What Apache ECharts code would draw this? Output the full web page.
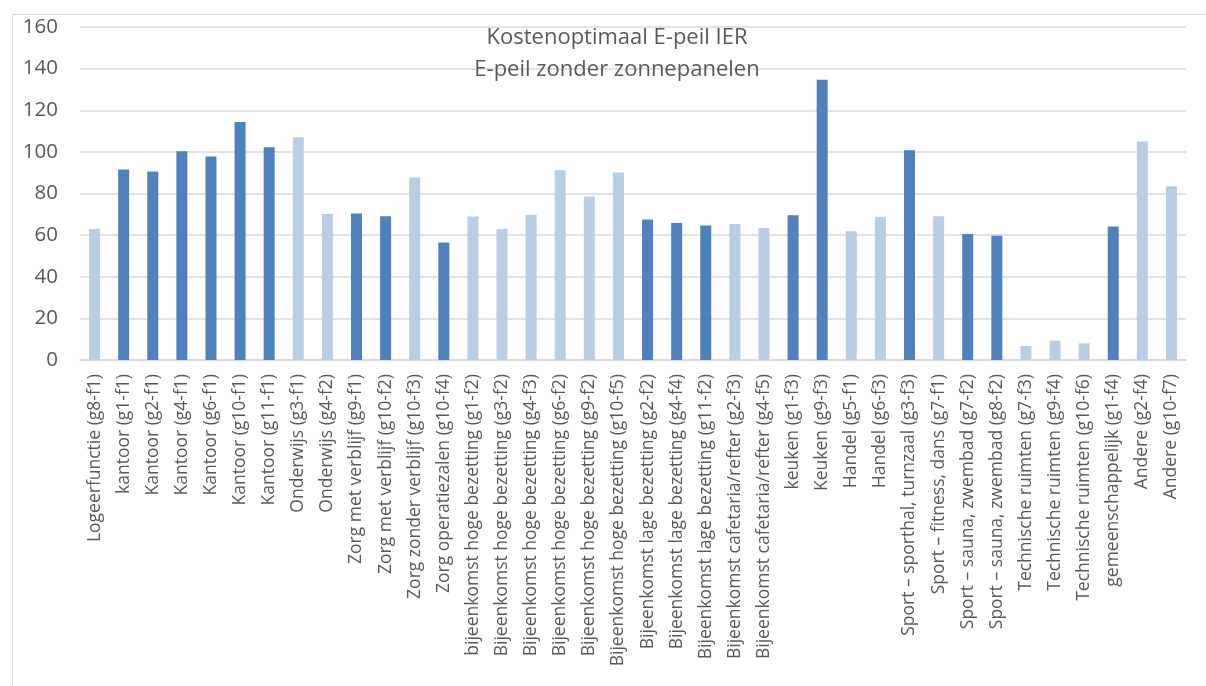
<!DOCTYPE html>
<html>
<head>
<meta charset="utf-8">
<script src="https://cdn.jsdelivr.net/npm/echarts@6/dist/echarts.min.js"></script>
<style>
html,body{margin:0;padding:0;background:#fff;}
#c{width:1206px;height:686px;}
</style>
</head>
<body>
<div id="c"></div>
<script>
const categories = [
  "Logeerfunctie (g8-f1)","kantoor (g1-f1)","Kantoor (g2-f1)","Kantoor (g4-f1)","Kantoor (g6-f1)",
  "Kantoor (g10-f1)","Kantoor (g11-f1)","Onderwijs (g3-f1)","Onderwijs (g4-f2)","Zorg met verblijf (g9-f1)",
  "Zorg met verblijf (g10-f2)","Zorg zonder verblijf (g10-f3)","Zorg operatiezalen (g10-f4)",
  "bijeenkomst hoge bezetting (g1-f2)","Bijeenkomst hoge bezetting (g3-f2)","Bijeenkomst hoge bezetting (g4-f3)",
  "Bijeenkomst hoge bezetting (g6-f2)","Bijeenkomst hoge bezetting (g9-f2)","Bijeenkomst hoge bezetting (g10-f5)",
  "Bijeenkomst lage bezetting (g2-f2)","Bijeenkomst lage bezetting (g4-f4)","Bijeenkomst lage bezetting (g11-f2)",
  "Bijeenkomst cafetaria/refter (g2-f3)","Bijeenkomst cafetaria/refter (g4-f5)","keuken (g1-f3)","Keuken (g9-f3)",
  "Handel (g5-f1)","Handel (g6-f3)","Sport – sporthal, turnzaal (g3-f3)","Sport – fitness, dans (g7-f1)",
  "Sport – sauna, zwembad (g7-f2)","Sport – sauna, zwembad (g8-f2)","Technische ruimten (g7-f3)",
  "Technische ruimten (g9-f4)","Technische ruimten (g10-f6)","gemeenschappelijk (g1-f4)","Andere (g2-f4)","Andere (g10-f7)"
];
// dark blue bars
const darkValues = [null,91.5,90.6,100.3,97.8,114.4,102.2,null,null,70.4,69.1,null,56.5,
  null,null,null,null,null,null,67.5,65.8,64.6,null,null,69.6,134.7,
  null,null,100.8,null,60.5,59.7,null,null,null,64.2,null,null];
// light blue bars
const lightValues = [63.0,null,null,null,null,null,null,107.0,70.2,null,null,87.7,null,
  69.0,63.0,69.8,91.2,78.6,90.1,null,null,null,65.4,63.4,null,null,
  61.9,68.8,null,69.1,null,null,6.7,9.3,8.0,null,105.0,83.5];
const yTicks = { min: 0, max: 160, interval: 20 };
const titleLines = ["Kostenoptimaal E-peil IER", "E-peil zonder zonnepanelen"];

const chart = echarts.init(document.getElementById('c'), null, {renderer:'canvas'});
const font = "'Open Sans', sans-serif";
chart.setOption({
  animation: false,
  backgroundColor: '#fff',
  title: {
    text: titleLines.join('\n'),
    left: 612, top: 17, textAlign: 'center',
    textStyle: { fontFamily: font, fontSize: 22, fontWeight: 'normal', color: '#595959', lineHeight: 32 }
  },
  graphic: [{
    type: 'rect', left: 10, top: 12, silent: true,
    shape: { x: 0, y: 0, width: 1210, height: 700 },
    style: { fill: 'none', stroke: '#d9d9d9', lineWidth: 1 }
  }],
  grid: { left: 80, right: 20, top: 27, bottom: 326, containLabel: false },
  xAxis: {
    type: 'category', data: categories,
    axisLine: { show: true, lineStyle: { color: '#d9d9d9', width: 1.5 } },
    axisTick: { show: false },
    axisLabel: { interval: 0, rotate: 90, margin: 14, fontFamily: font, fontSize: 17.5, color: '#595959' }
  },
  yAxis: {
    type: 'value', min: yTicks.min, max: yTicks.max, interval: yTicks.interval,
    axisLine: { show: false }, axisTick: { show: false },
    axisLabel: { margin: 22, fontFamily: font, fontSize: 20.5, color: '#595959' },
    splitLine: { lineStyle: { color: '#d9d9d9', width: 1.5 } }
  },
  series: [
    { name: 'dark', type: 'bar', stack: 'a', data: darkValues, barWidth: 11,
      itemStyle: { color: '#4F81BD' } },
    { name: 'light', type: 'bar', stack: 'a', data: lightValues, barWidth: 11,
      itemStyle: { color: '#B9CDE5' } }
  ]
});
</script>
</body>
</html>
